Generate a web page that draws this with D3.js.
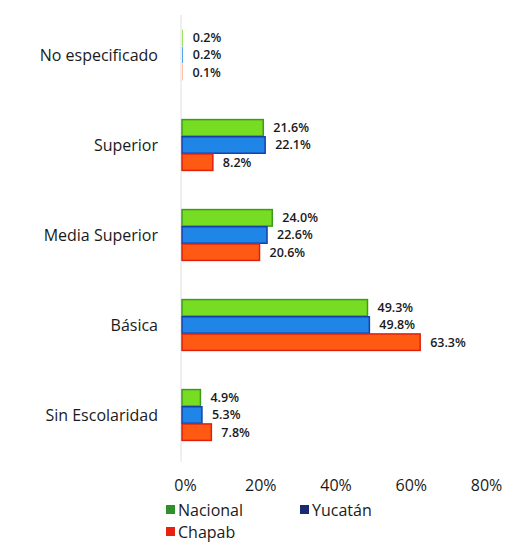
<!DOCTYPE html>
<html>
<head>
<meta charset="utf-8">
<script src="https://cdn.jsdelivr.net/npm/d3@7"></script>
<style>
  body { margin: 0; background: #fff; }
  text { font-family: "Open Sans", "Liberation Sans", sans-serif; fill: #1a1a1a; }
</style>
</head>
<body>
<div id="chart"></div>
<script>
var categories = ["No especificado", "Superior", "Media Superior", "Básica", "Sin Escolaridad"];
var seriesNames = ["Nacional", "Yucatán", "Chapab"];
var nacional = [0.2, 21.6, 24.0, 49.3, 4.9];
var yucatan = [0.2, 22.1, 22.6, 49.8, 5.3];
var chapab = [0.1, 8.2, 20.6, 63.3, 7.8];
var xTicks = [0, 20, 40, 60, 80];

var fills = ["#77dd22", "#1f86e8", "#ff5a14"];
var strokes = ["#3c9a1c", "#1a3fa8", "#e0200c"];
var legendFills = ["#2f8f2a", "#1a2a70", "#e8220e"];

var width = 507, height = 545;

var svg = d3.select("#chart")
  .append("svg")
  .attr("width", width)
  .attr("height", height);

var x = d3.scaleLinear().domain([0, 80]).range([182, 483]);
var y = d3.scaleBand().domain(categories).range([10, 460]).paddingInner(0.42).paddingOuter(0.21);
var ySub = d3.scaleBand().domain(seriesNames).range([0, y.bandwidth()]).padding(0.04);

var rows = [];
categories.forEach(function(c, i) {
  [nacional, yucatan, chapab].forEach(function(s, j) {
    rows.push({ cat: c, series: seriesNames[j], k: j, value: s[i] });
  });
});

// faint axis line
svg.append("line")
  .attr("x1", x(0) - 1).attr("x2", x(0) - 1)
  .attr("y1", 15).attr("y2", 462)
  .attr("stroke", "#e0e0e0");

svg.selectAll("rect.bar")
  .data(rows)
  .enter().append("rect")
  .attr("class", "bar")
  .attr("x", x(0))
  .attr("y", function(d) { return y(d.cat) + ySub(d.series); })
  .attr("width", function(d) { return x(d.value) - x(0); })
  .attr("height", ySub.bandwidth())
  .attr("fill", function(d) { return fills[d.k]; })
  .attr("stroke", function(d) { return strokes[d.k]; })
  .attr("stroke-width", function(d) { return d.value < 1 ? 0 : 1.5; });

svg.selectAll("text.val")
  .data(rows)
  .enter().append("text")
  .attr("class", "val")
  .attr("x", function(d) { return x(d.value) + 10; })
  .attr("y", function(d) { return y(d.cat) + ySub(d.series) + ySub.bandwidth() / 2; })
  .attr("dy", "0.35em")
  .attr("font-size", 12.5)
  .attr("font-weight", 600)
  .text(function(d) { return d.value.toFixed(1) + "%"; });

svg.append("g")
  .selectAll("text")
  .data(categories)
  .enter().append("text")
  .attr("x", 158)
  .attr("y", function(d) { return y(d) + y.bandwidth() / 2; })
  .attr("dy", "0.35em")
  .attr("text-anchor", "end")
  .attr("font-size", 16)
  .text(function(d) { return d; });

var xAxis = d3.axisBottom(x)
  .tickValues(xTicks)
  .tickSize(0)
  .tickPadding(0)
  .tickFormat(function(d) { return d + "%"; });

var gx = svg.append("g")
  .attr("transform", "translate(3,480)")
  .call(xAxis);
gx.select(".domain").remove();
gx.selectAll("text")
  .attr("font-size", 16)
  .attr("font-family", "'Open Sans', sans-serif")
  .attr("fill", "#1a1a1a");

var legendPos = [[166, 510], [300, 510], [166, 532]];
var legend = svg.append("g")
  .selectAll("g")
  .data(seriesNames)
  .enter().append("g")
  .attr("transform", function(d, i) { return "translate(" + legendPos[i][0] + "," + legendPos[i][1] + ")"; });

legend.append("rect")
  .attr("x", 0).attr("y", -5)
  .attr("width", 9).attr("height", 9)
  .attr("fill", function(d, i) { return legendFills[i]; });

legend.append("text")
  .attr("x", 12)
  .attr("y", 0)
  .attr("dy", "0.35em")
  .attr("font-size", 16)
  .text(function(d) { return d; });
</script>
</body>
</html>
